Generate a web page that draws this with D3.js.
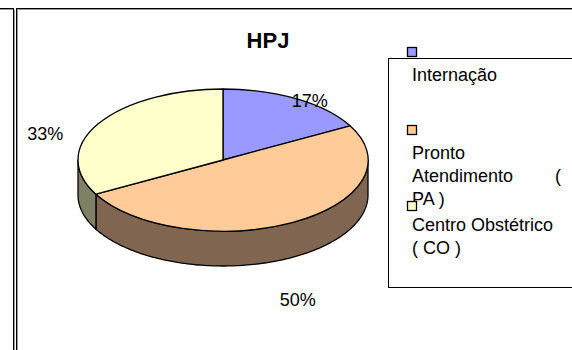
<!DOCTYPE html>
<html>
<head>
<meta charset="utf-8">
<script src="https://cdn.jsdelivr.net/npm/d3@7"></script>
<style>
  html, body { margin: 0; padding: 0; background: #fff; }
  svg { display: block; font-family: "Liberation Sans", Arial, sans-serif; }
</style>
</head>
<body>
<svg id="chart" width="572" height="350"></svg>
<script>
// Distribution of cases per sector at HPJ
const categories = ["Internação", "Pronto Atendimento ( PA )", "Centro Obstétrico ( CO )"];
const values = [17, 50, 33];
const valueLabels = ["17%", "50%", "33%"];
const chartTitle = "HPJ";

const topColors = ["#9999FF", "#FFCC99", "#FFFFCC"];
const sideColors = ["#4C4C80", "#806650", "#808066"];

const svg = d3.select("#chart");
const W = 572, H = 350;

// ---- frame lines ----
const frame = svg.append("g");
frame.append("line").attr("x1", 0).attr("x2", 14).attr("y1", 8.5).attr("y2", 8.5).attr("stroke", "#000");
frame.append("line").attr("x1", 0).attr("x2", 14).attr("y1", 9.5).attr("y2", 9.5).attr("stroke", "#999");
frame.append("line").attr("x1", 13.5).attr("x2", 13.5).attr("y1", 8).attr("y2", H).attr("stroke", "#000");
frame.append("line").attr("x1", 14.5).attr("x2", 14.5).attr("y1", 10).attr("y2", H).attr("stroke", "#999");
frame.append("line").attr("x1", 16.5).attr("x2", 16.5).attr("y1", 8).attr("y2", H).attr("stroke", "#000");
frame.append("line").attr("x1", 17.5).attr("x2", 17.5).attr("y1", 10).attr("y2", H).attr("stroke", "#999");
frame.append("line").attr("x1", 16).attr("x2", W).attr("y1", 8.5).attr("y2", 8.5).attr("stroke", "#000");
frame.append("line").attr("x1", 17).attr("x2", W).attr("y1", 9.5).attr("y2", 9.5).attr("stroke", "#999");

// ---- title ----
svg.append("text")
  .attr("x", 268).attr("y", 48)
  .attr("text-anchor", "middle")
  .attr("font-weight", "bold")
  .attr("font-size", 22)
  .text(chartTitle);

// ---- 3D pie ----
const cx = 223, cy = 160, rx = 145, ry = 71, depth = 35;
const pie = d3.pie().sort(null).value(d => d)(values);

// point on the top ellipse for an angle measured clockwise from 12 o'clock
const pt = (a, dy = 0) => [cx + rx * Math.sin(a), cy - ry * Math.cos(a) + dy];

const line = d3.line();
const sampleArc = (a0, a1, dy) => {
  const n = Math.max(2, Math.ceil(Math.abs(a1 - a0) / 0.02));
  return d3.range(n + 1).map(i => pt(a0 + (a1 - a0) * i / n, dy));
};

// side walls, only for the front half (angles between PI/2 and 3PI/2)
const sides = svg.append("g");
pie.forEach((s, i) => {
  const a0 = Math.max(s.startAngle, Math.PI / 2);
  const a1 = Math.min(s.endAngle, 3 * Math.PI / 2);
  if (a1 <= a0) return;
  const pts = sampleArc(a0, a1, 0).concat(sampleArc(a1, a0, depth));
  sides.append("path")
    .attr("d", line(pts) + "Z")
    .attr("fill", sideColors[i])
    .attr("stroke", "#000")
    .attr("stroke-width", 1.3)
    .attr("stroke-linejoin", "round");
});

// top faces drawn with d3.arc, squashed into an ellipse
const arc = d3.arc().innerRadius(0).outerRadius(rx);
svg.append("g")
  .attr("transform", `translate(${cx},${cy}) scale(1,${ry / rx})`)
  .selectAll("path")
  .data(pie)
  .join("path")
  .attr("d", arc)
  .attr("fill", (d, i) => topColors[i])
  .attr("stroke", "#000")
  .attr("stroke-width", 1.3)
  .attr("vector-effect", "non-scaling-stroke")
  .attr("stroke-linejoin", "round");

// ---- percentage labels ----
const labelNudge = [[13, 8], [5, 84], [-53, 16]];
svg.append("g").selectAll("text")
  .data(pie)
  .join("text")
  .attr("x", (d, i) => pt((d.startAngle + d.endAngle) / 2)[0] + labelNudge[i][0])
  .attr("y", (d, i) => pt((d.startAngle + d.endAngle) / 2)[1] + labelNudge[i][1])
  .attr("text-anchor", "middle")
  .attr("font-size", 18)
  .attr("fill", "#000")
  .text((d, i) => valueLabels[i]);

// ---- legend ----
const lg = svg.append("g");
lg.append("rect")
  .attr("x", 388.5).attr("y", 58.5)
  .attr("width", 200).attr("height", 229)
  .attr("fill", "#fff").attr("stroke", "#000");

const textX = 412, rightX = 561, lineH = 23;
// wrapped legend lines; a second word is pushed to the right edge (justified)
const legendLayout = [
  { marker: 47, lines: [[categories[0]]], y0: 81 },
  { marker: 125, lines: [["Pronto"], ["Atendimento", "("], ["PA )"]], y0: 159 },
  { marker: 201, lines: [["Centro Obstétrico"], ["( CO )"]], y0: 231 }
];
legendLayout.forEach((e, i) => {
  e.lines.forEach((words, j) => {
    const y = e.y0 + j * lineH;
    lg.append("text").attr("x", textX).attr("y", y)
      .attr("font-size", 18).text(words[0]);
    if (words.length > 1) {
      lg.append("text").attr("x", rightX).attr("y", y)
        .attr("text-anchor", "end").attr("font-size", 18).text(words[1]);
    }
  });
});
legendLayout.forEach((e, i) => {
  lg.append("rect")
    .attr("x", 407.5).attr("y", e.marker + 0.5)
    .attr("width", 9).attr("height", 9)
    .attr("fill", topColors[i])
    .attr("stroke", "#000").attr("stroke-width", 1.3);
});
</script>
</body>
</html>
